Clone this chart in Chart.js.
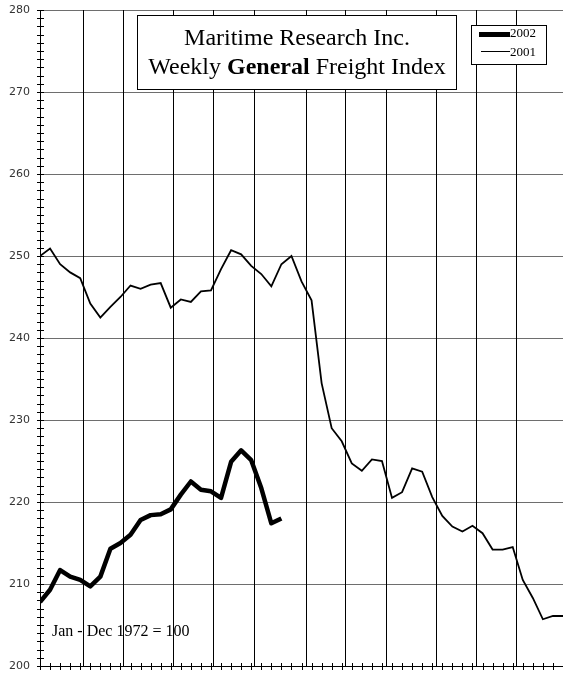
<!DOCTYPE html>
<html>
<head>
<meta charset="utf-8">
<script src="https://cdn.jsdelivr.net/npm/chart.js@4/dist/chart.umd.min.js"></script>
<style>
    body { margin: 0; background: #fff; }
    #wrap { position: relative; width: 563px; height: 673px; }
    #freightChart { position: absolute; left: 0; top: 0; }
    .box { position: absolute; background: #fff; border: 1px solid #000; box-sizing: border-box; }
    .serif { position: absolute; font-family: "Liberation Serif", "Times New Roman", serif; color: #000; white-space: nowrap; }
    .swatch { position: absolute; background: #000; }
</style>
</head>
<body>
<div id="wrap">
    <canvas id="freightChart" width="563" height="673"></canvas>

    <div class="box" style="left:137px; top:15px; width:320px; height:75px;"></div>
    <div class="serif" style="left:137px; width:320px; text-align:center; top:24.6px; font-size:24px; line-height:24px;">Maritime Research Inc.</div>
    <div class="serif" style="left:137px; width:320px; text-align:center; top:53.9px; font-size:24px; line-height:24px;">Weekly <b>General</b> Freight Index</div>

    <div class="box" style="left:471px; top:25px; width:76px; height:40px;"></div>
    <div class="swatch" style="left:479px; top:31.5px; width:31px; height:5px;"></div>
    <div class="serif" style="left:510px; top:26.4px; font-size:13px; line-height:13px;">2002</div>
    <div class="swatch" style="left:481px; top:51px; width:29px; height:1.4px;"></div>
    <div class="serif" style="left:510px; top:44.8px; font-size:13px; line-height:13px;">2001</div>

    <div class="serif" style="left:52px; top:622.6px; font-size:16px; line-height:16px;">Jan - Dec 1972 = 100</div>
</div>

<script>
// 周指数数据 (Jan - Dec 1972 = 100), one value per week
const index2001 = [
    250.0, 250.9, 249.0, 248.0, 247.3, 244.2, 242.5, 243.8, 245.0, 246.4,
    246.0, 246.5, 246.7, 243.7, 244.7, 244.4, 245.7, 245.8, 248.4, 250.7,
    250.2, 248.8, 247.8, 246.3, 249.0, 250.0, 246.9, 244.6, 234.5, 229.0,
    227.4, 224.7, 223.8, 225.2, 225.0, 220.5, 221.2, 224.1, 223.7, 220.6,
    218.3, 217.0, 216.4, 217.1, 216.2, 214.2, 214.2, 214.5, 210.5, 208.3,
    205.7, 206.1, 206.1
];

const index2002 = [
    207.8, 209.3, 211.7, 210.9, 210.5, 209.7, 210.9, 214.3, 215.0, 216.0,
    217.8, 218.4, 218.5, 219.1, 220.9, 222.5, 221.5, 221.3, 220.5, 224.9,
    226.3, 225.1, 221.7, 217.4, 218.0
];

// month boundaries, in weeks from the start of the year
const monthLines = [4.3, 8.22, 13.26, 17.24, 21.3, 26.42, 30.35, 34.43, 39.4, 43.38, 47.3];

const weekCount = 52;
const yMin = 200;
const yMax = 280;
const yStep = 10;

function toPoints(values) {
    return values.map((v, i) => ({ x: i, y: v }));
}

// month grid lines and the small weekly / unit tick marks
const decorPlugin = {
    id: 'decor',
    beforeDatasetsDraw(chart) {
        const ctx = chart.ctx;
        const area = chart.chartArea;
        const xs = chart.scales.x;
        ctx.save();
        ctx.strokeStyle = '#000';
        ctx.lineWidth = 1;
        monthLines.forEach(w => {
            const px = Math.round(xs.getPixelForValue(w)) + 0.5;
            ctx.beginPath();
            ctx.moveTo(px, area.top);
            ctx.lineTo(px, area.bottom);
            ctx.stroke();
        });
        ctx.restore();
    },
    afterDraw(chart) {
        const ctx = chart.ctx;
        const area = chart.chartArea;
        const xs = chart.scales.x;
        const ys = chart.scales.y;
        ctx.save();
        ctx.strokeStyle = '#000';
        ctx.lineWidth = 1;
        ctx.beginPath();
        for (let v = yMin; v <= yMax; v++) {
            const py = Math.round(ys.getPixelForValue(v)) + 0.5;
            ctx.moveTo(area.left - 3, py);
            ctx.lineTo(area.left + 4, py);
        }
        for (let w = 0; w <= weekCount; w++) {
            const px = Math.round(xs.getPixelForValue(w)) + 0.5;
            ctx.moveTo(px, area.bottom - 3);
            ctx.lineTo(px, area.bottom + 4);
        }
        ctx.stroke();
        ctx.restore();
    }
};

new Chart(document.getElementById('freightChart'), {
    type: 'line',
    data: {
        datasets: [
            {
                label: '2002',
                data: toPoints(index2002),
                borderColor: '#000',
                borderWidth: 4.5,
                pointRadius: 0,
                tension: 0,
                borderJoinStyle: 'round',
                fill: false
            },
            {
                label: '2001',
                data: toPoints(index2001),
                borderColor: '#000',
                borderWidth: 1.8,
                pointRadius: 0,
                tension: 0,
                fill: false
            }
        ]
    },
    options: {
        responsive: false,
        animation: false,
        devicePixelRatio: 1,
        layout: { padding: { top: 10, right: 0, bottom: 0, left: 0 } },
        plugins: {
            legend: { display: false },
            tooltip: { enabled: false }
        },
        scales: {
            x: {
                type: 'linear',
                min: 0,
                max: weekCount,
                ticks: { display: false },
                grid: { display: false },
                border: { display: true, color: '#000', width: 1 },
                afterFit(scale) {
                    scale.height = 7;
                    scale.paddingLeft = 0;
                    scale.paddingRight = 0;
                }
            },
            y: {
                min: yMin,
                max: yMax,
                ticks: {
                    stepSize: yStep,
                    padding: 10,
                    color: '#333',
                    font: { family: 'DejaVu Sans', size: 11 }
                },
                grid: { color: '#6e6e6e', lineWidth: 1, drawTicks: false },
                border: { display: true, color: '#000', width: 1 },
                afterFit(scale) {
                    scale.width = 40;
                    scale.paddingTop = 0;
                    scale.paddingBottom = 0;
                }
            }
        }
    },
    plugins: [decorPlugin]
});
</script>
</body>
</html>
